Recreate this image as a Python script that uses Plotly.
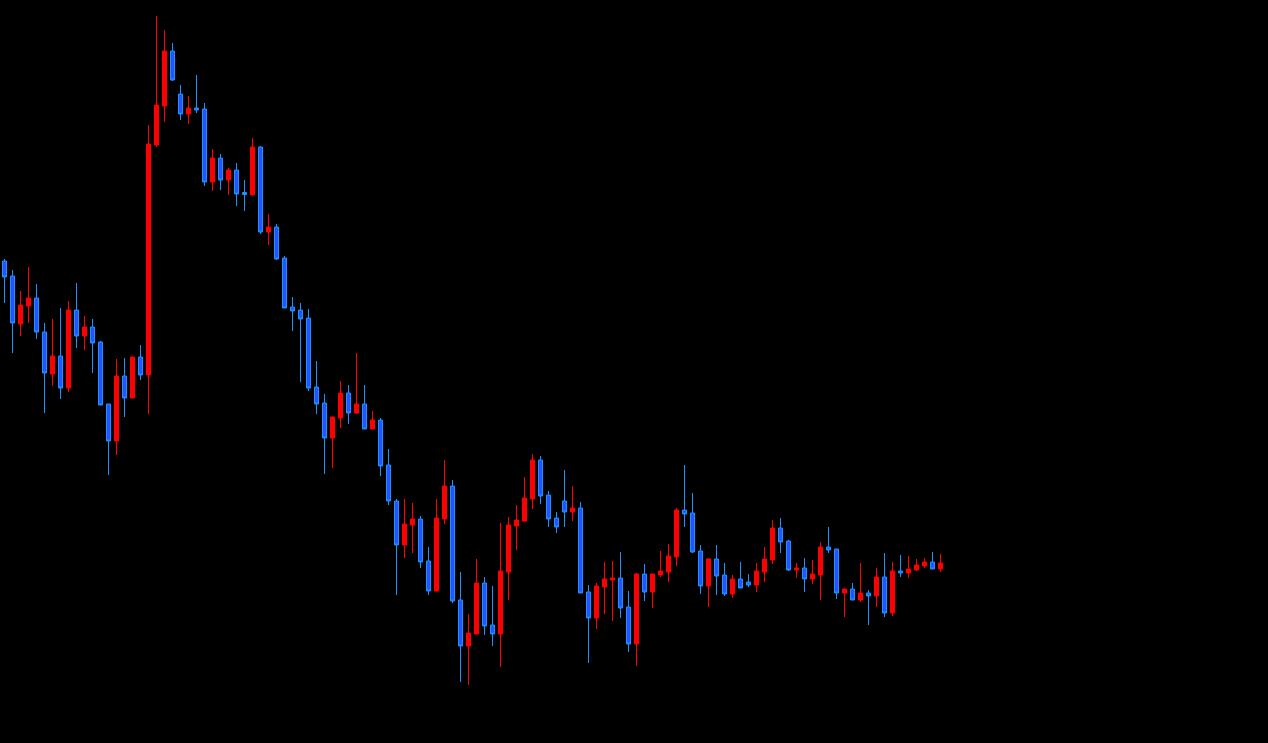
import plotly.graph_objects as go

# OHLC values (arbitrary price units)
opens = [482, 467, 419, 437, 445, 411, 369, 387, 355, 433, 407, 416, 401, 339, 302, 367, 345, 386, 368, 598,
         637, 692, 649, 629, 635, 634, 561, 585, 563, 573, 550.5, 548, 596, 511, 516, 485, 436, 433, 425, 356,
         340, 305, 325, 350, 330, 339, 314, 323, 278, 242, 198, 218, 224, 182, 152, 224, 257, 143, 97, 109,
         160, 118, 109, 171, 217, 222, 244, 283, 248, 225, 242, 231, 235, 151, 125, 156, 163, 165, 136, 99,
         169, 151, 168, 171, 186, 233, 230, 192, 157, 184, 168, 149, 164, 161, 158, 171, 183, 215, 202, 173,
         175, 164, 168, 196, 194, 150, 154, 143, 150, 147, 166, 130, 172, 170, 173, 177, 181, 174]
highs = [484, 473, 452, 476, 459, 420, 424, 435, 442, 460, 427, 424, 402, 339, 384, 385, 386, 398, 618, 727,
         713, 700, 658, 647, 668, 640, 594, 589, 575, 580, 563, 605, 597, 529, 519, 487, 446, 440, 434, 382,
         349, 326, 362, 358, 390, 358, 332, 325, 294, 244, 244, 240, 227, 196, 244, 283, 263, 171, 129, 184,
         166, 157, 220, 226, 238, 266, 289, 287, 252, 231, 273, 257, 241, 158, 160, 181, 182, 191, 152, 170,
         179, 169, 192, 199, 235, 278, 250, 198, 185, 198, 180, 168, 181, 169, 180, 196, 223, 225, 203, 180,
         185, 183, 201, 216, 194, 154, 160, 180, 153, 175, 190, 181, 188, 187, 184, 185, 191, 189]
lows = [440, 390, 407, 420, 404, 330, 357, 344, 351, 395, 393, 370, 338, 268, 288, 326, 345, 363, 329, 596,
        621, 662, 623, 619, 630, 557, 552, 553, 548, 537, 532, 548, 509, 498, 483, 435, 412, 361, 352, 329,
        269, 275, 315, 319, 329, 314, 314, 267, 238, 148, 185, 190, 175, 148, 152, 219, 140, 61, 58, 109,
        108, 97, 76, 143, 193, 221, 234, 239, 216, 210, 216, 222, 150, 80, 114, 129, 122, 125, 91, 77,
        142, 135, 166, 161, 177, 216, 190, 149, 136, 148, 147, 145, 155, 156, 151, 161, 179, 190, 172, 165,
        151, 159, 143, 190, 144, 126, 143, 141, 118, 136, 126, 127, 166, 165, 172, 175, 174, 171]
closes = [466, 420, 438, 445, 411, 370, 387, 355, 433, 407, 416, 400, 338, 302, 367, 345, 386, 368, 599, 638,
          692, 663, 629, 635, 633, 561, 585, 563, 573, 549, 548.5, 596, 511, 516, 484, 435, 432, 424, 355, 339,
          305, 326, 350, 330, 339, 314, 323, 277, 242, 198, 219, 224, 181, 152, 225, 257, 142, 97, 110, 160,
          117, 109, 172, 218, 223, 245, 283, 247, 224, 216, 231, 235, 150, 125, 157, 164, 165, 135, 99, 169,
          151, 169, 172, 187, 233, 229, 191, 157, 184, 167, 149, 164, 155, 158, 172, 184, 215, 201, 173, 175,
          164, 169, 196, 193, 150, 154, 143, 150, 147, 166, 130, 172, 170, 174, 178, 181, 174, 180]

bars = list(range(len(opens)))

fig = go.Figure(go.Candlestick(
    x=bars, open=opens, high=highs, low=lows, close=closes,
    increasing=dict(line=dict(color="#ff0000", width=1), fillcolor="#ff0000"),
    decreasing=dict(line=dict(color="#1e90ff", width=1), fillcolor="#2255ff"),
    whiskerwidth=0,
    hoverinfo="skip",
))

fig.update_layout(
    width=1268, height=743,
    margin=dict(l=0, r=0, t=0, b=0),
    paper_bgcolor="black", plot_bgcolor="black",
    showlegend=False,
    boxgap=0.5,
    boxgroupgap=0,
    xaxis=dict(type="linear", range=[-0.5625, 157.9375], visible=False,
               rangeslider=dict(visible=False), showgrid=False, zeroline=False),
    yaxis=dict(range=[0, 743], visible=False, showgrid=False, zeroline=False),
)

fig.write_html(
    "out.html",
    config={"displayModeBar": False},
    post_script="document.body.style.margin='0';document.body.style.background='black';"
                "document.body.style.overflow='hidden';",
)
